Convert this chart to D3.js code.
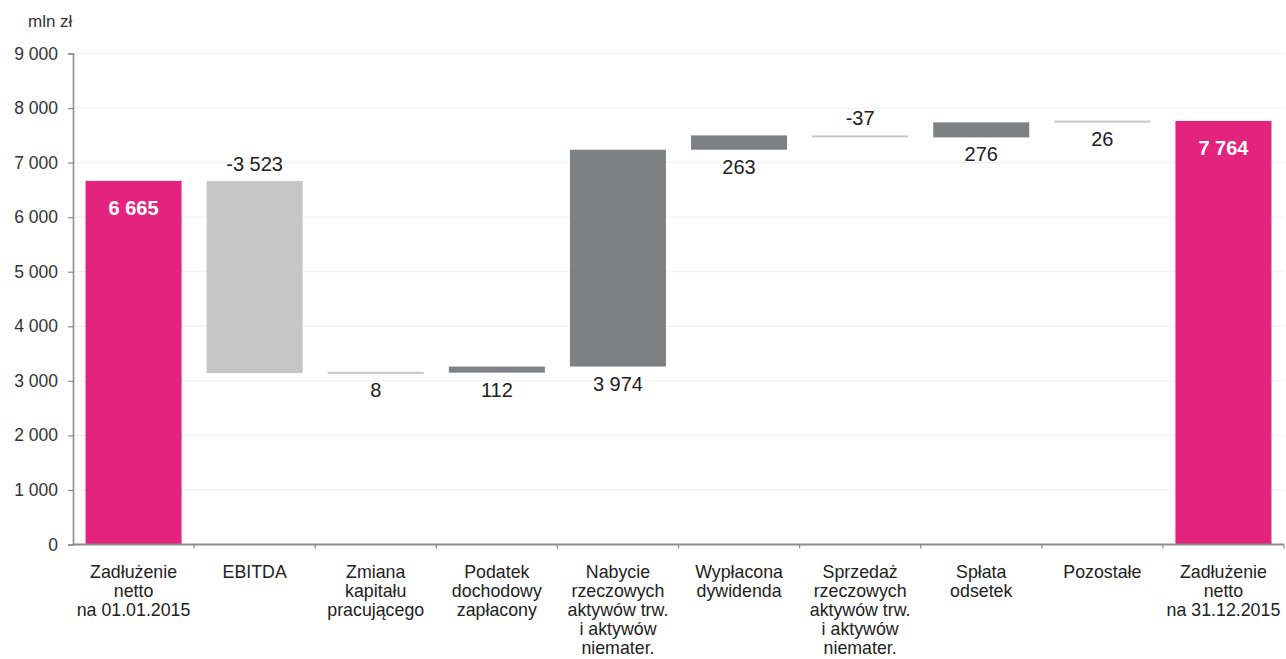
<!DOCTYPE html>
<html>
<head>
<meta charset="utf-8">
<script src="https://cdn.jsdelivr.net/npm/d3@7"></script>
<style>
  html, body { margin: 0; padding: 0; background: #fff; }
  svg { display: block; font-family: "Liberation Sans", Arial, sans-serif; }
</style>
</head>
<body>
<svg id="chart" width="1286" height="659"></svg>
<script>
// ---- data ----
const categories = [
  "Zadłużenie\nnetto\nna 01.01.2015",
  "EBITDA",
  "Zmiana\nkapitału\npracującego",
  "Podatek\ndochodowy\nzapłacony",
  "Nabycie\nrzeczowych\naktywów trw.\ni aktywów\nniemater.",
  "Wypłacona\ndywidenda",
  "Sprzedaż\nrzeczowych\naktywów trw.\ni aktywów\nniemater.",
  "Spłata\nodsetek",
  "Pozostałe",
  "Zadłużenie\nnetto\nna 31.12.2015"
];
const values = [6665, -3523, 8, 112, 3974, 263, -37, 276, 26, 7764];
const isTotal = [true, false, false, false, false, false, false, false, false, true];
const yTicks = [0, 1000, 2000, 3000, 4000, 5000, 6000, 7000, 8000, 9000];
const unitLabel = "mln zł";

// ---- layout ----
const svg = d3.select("#chart");
const x0 = 73, x1 = 1284, yTop = 53.5, yBottom = 544.5;
const locale = d3.formatLocale({ decimal: ",", thousands: "\u00a0", grouping: [3], currency: ["", " zł"] });
const fmt = v => (v < 0 ? "-" : "") + locale.format(",d")(Math.abs(v));

const x = d3.scaleBand().domain(d3.range(categories.length)).range([x0, x1])
  .paddingInner(0.207).paddingOuter(0.1035);
const y = d3.scaleLinear().domain([0, 9000]).range([yBottom, yTop]);

// waterfall computation
let run = 0;
const bars = values.map((v, i) => {
  let start, end;
  if (isTotal[i]) { start = 0; end = v; run = v; }
  else { start = run; end = run + v; run = end; }
  return { i, v, start, end, total: isTotal[i] };
});

const PINK = "#e4237f", DARK = "#7f8083", LIGHT = "#c6c6c6";
const colorOf = d => d.total ? PINK : (d.v >= 100 ? DARK : LIGHT);

// gridlines
svg.append("g").selectAll("line").data(yTicks.filter(t => t > 0)).join("line")
  .attr("x1", x0).attr("x2", x1)
  .attr("y1", d => y(d)).attr("y2", d => y(d))
  .attr("stroke", "#efefef").attr("stroke-width", 1);

// y axis
const yAxis = d3.axisLeft(y).tickValues(yTicks).tickSize(5).tickPadding(10)
  .tickFormat(d => locale.format(",d")(d));
const gy = svg.append("g").attr("transform", `translate(${x0},0)`).call(yAxis);
gy.select(".domain").attr("stroke", "#8c8c8c").attr("stroke-width", 1.6);
gy.selectAll(".tick line").attr("stroke", "#8c8c8c").attr("stroke-width", 1.2);
gy.selectAll(".tick text").attr("fill", "#333").style("font-size", "17.5px")
  .style("font-family", "'Liberation Sans', Arial, sans-serif");

svg.append("text").attr("x", 28).attr("y", 27).attr("fill", "#333")
  .style("font-size", "17px").text(unitLabel);

// bars
const minH = 2;
svg.append("g").selectAll("rect").data(bars).join("rect")
  .attr("x", d => x(d.i))
  .attr("width", x.bandwidth())
  .attr("y", d => {
    const top = y(Math.max(d.start, d.end)), bot = y(Math.min(d.start, d.end));
    const h = bot - top;
    return h < minH ? (top + bot) / 2 - minH / 2 : top;
  })
  .attr("height", d => Math.max(minH, Math.abs(y(d.start) - y(d.end))))
  .attr("fill", colorOf);

// x axis
svg.append("line").attr("x1", x0).attr("x2", x1).attr("y1", yBottom).attr("y2", yBottom)
  .attr("stroke", "#8c8c8c").attr("stroke-width", 2);
const boundaries = d3.range(categories.length + 1).map(i => x0 + i * x.step());
svg.append("g").selectAll("line").data(boundaries.slice(1)).join("line")
  .attr("x1", d => d).attr("x2", d => d).attr("y1", yBottom).attr("y2", yBottom + 4)
  .attr("stroke", "#8c8c8c").attr("stroke-width", 1.2);

// value labels
const off = 17;
svg.append("g").selectAll("text").data(bars).join("text")
  .attr("x", d => x(d.i) + x.bandwidth() / 2)
  .attr("y", d => {
    if (d.total) return y(d.end) + 27;
    return d.v < 0 ? y(d.start) - off : y(d.start) + off;
  })
  .attr("text-anchor", "middle")
  .attr("dominant-baseline", "central")
  .attr("fill", d => d.total ? "#fff" : "#222")
  .style("font-size", "20px")
  .style("font-weight", d => d.total ? "bold" : "normal")
  .text(d => fmt(d.v));

// category labels
const lh = 19;
const cat = svg.append("g").selectAll("text").data(categories).join("text")
  .attr("x", (d, i) => x(i) + x.bandwidth() / 2)
  .attr("y", 578)
  .attr("text-anchor", "middle")
  .attr("fill", "#222")
  .style("font-size", "17.8px");
cat.each(function(d) {
  const t = d3.select(this);
  d.split("\n").forEach((line, k) => {
    t.append("tspan").attr("x", t.attr("x")).attr("dy", k === 0 ? 0 : lh).text(line);
  });
});
</script>
</body>
</html>
